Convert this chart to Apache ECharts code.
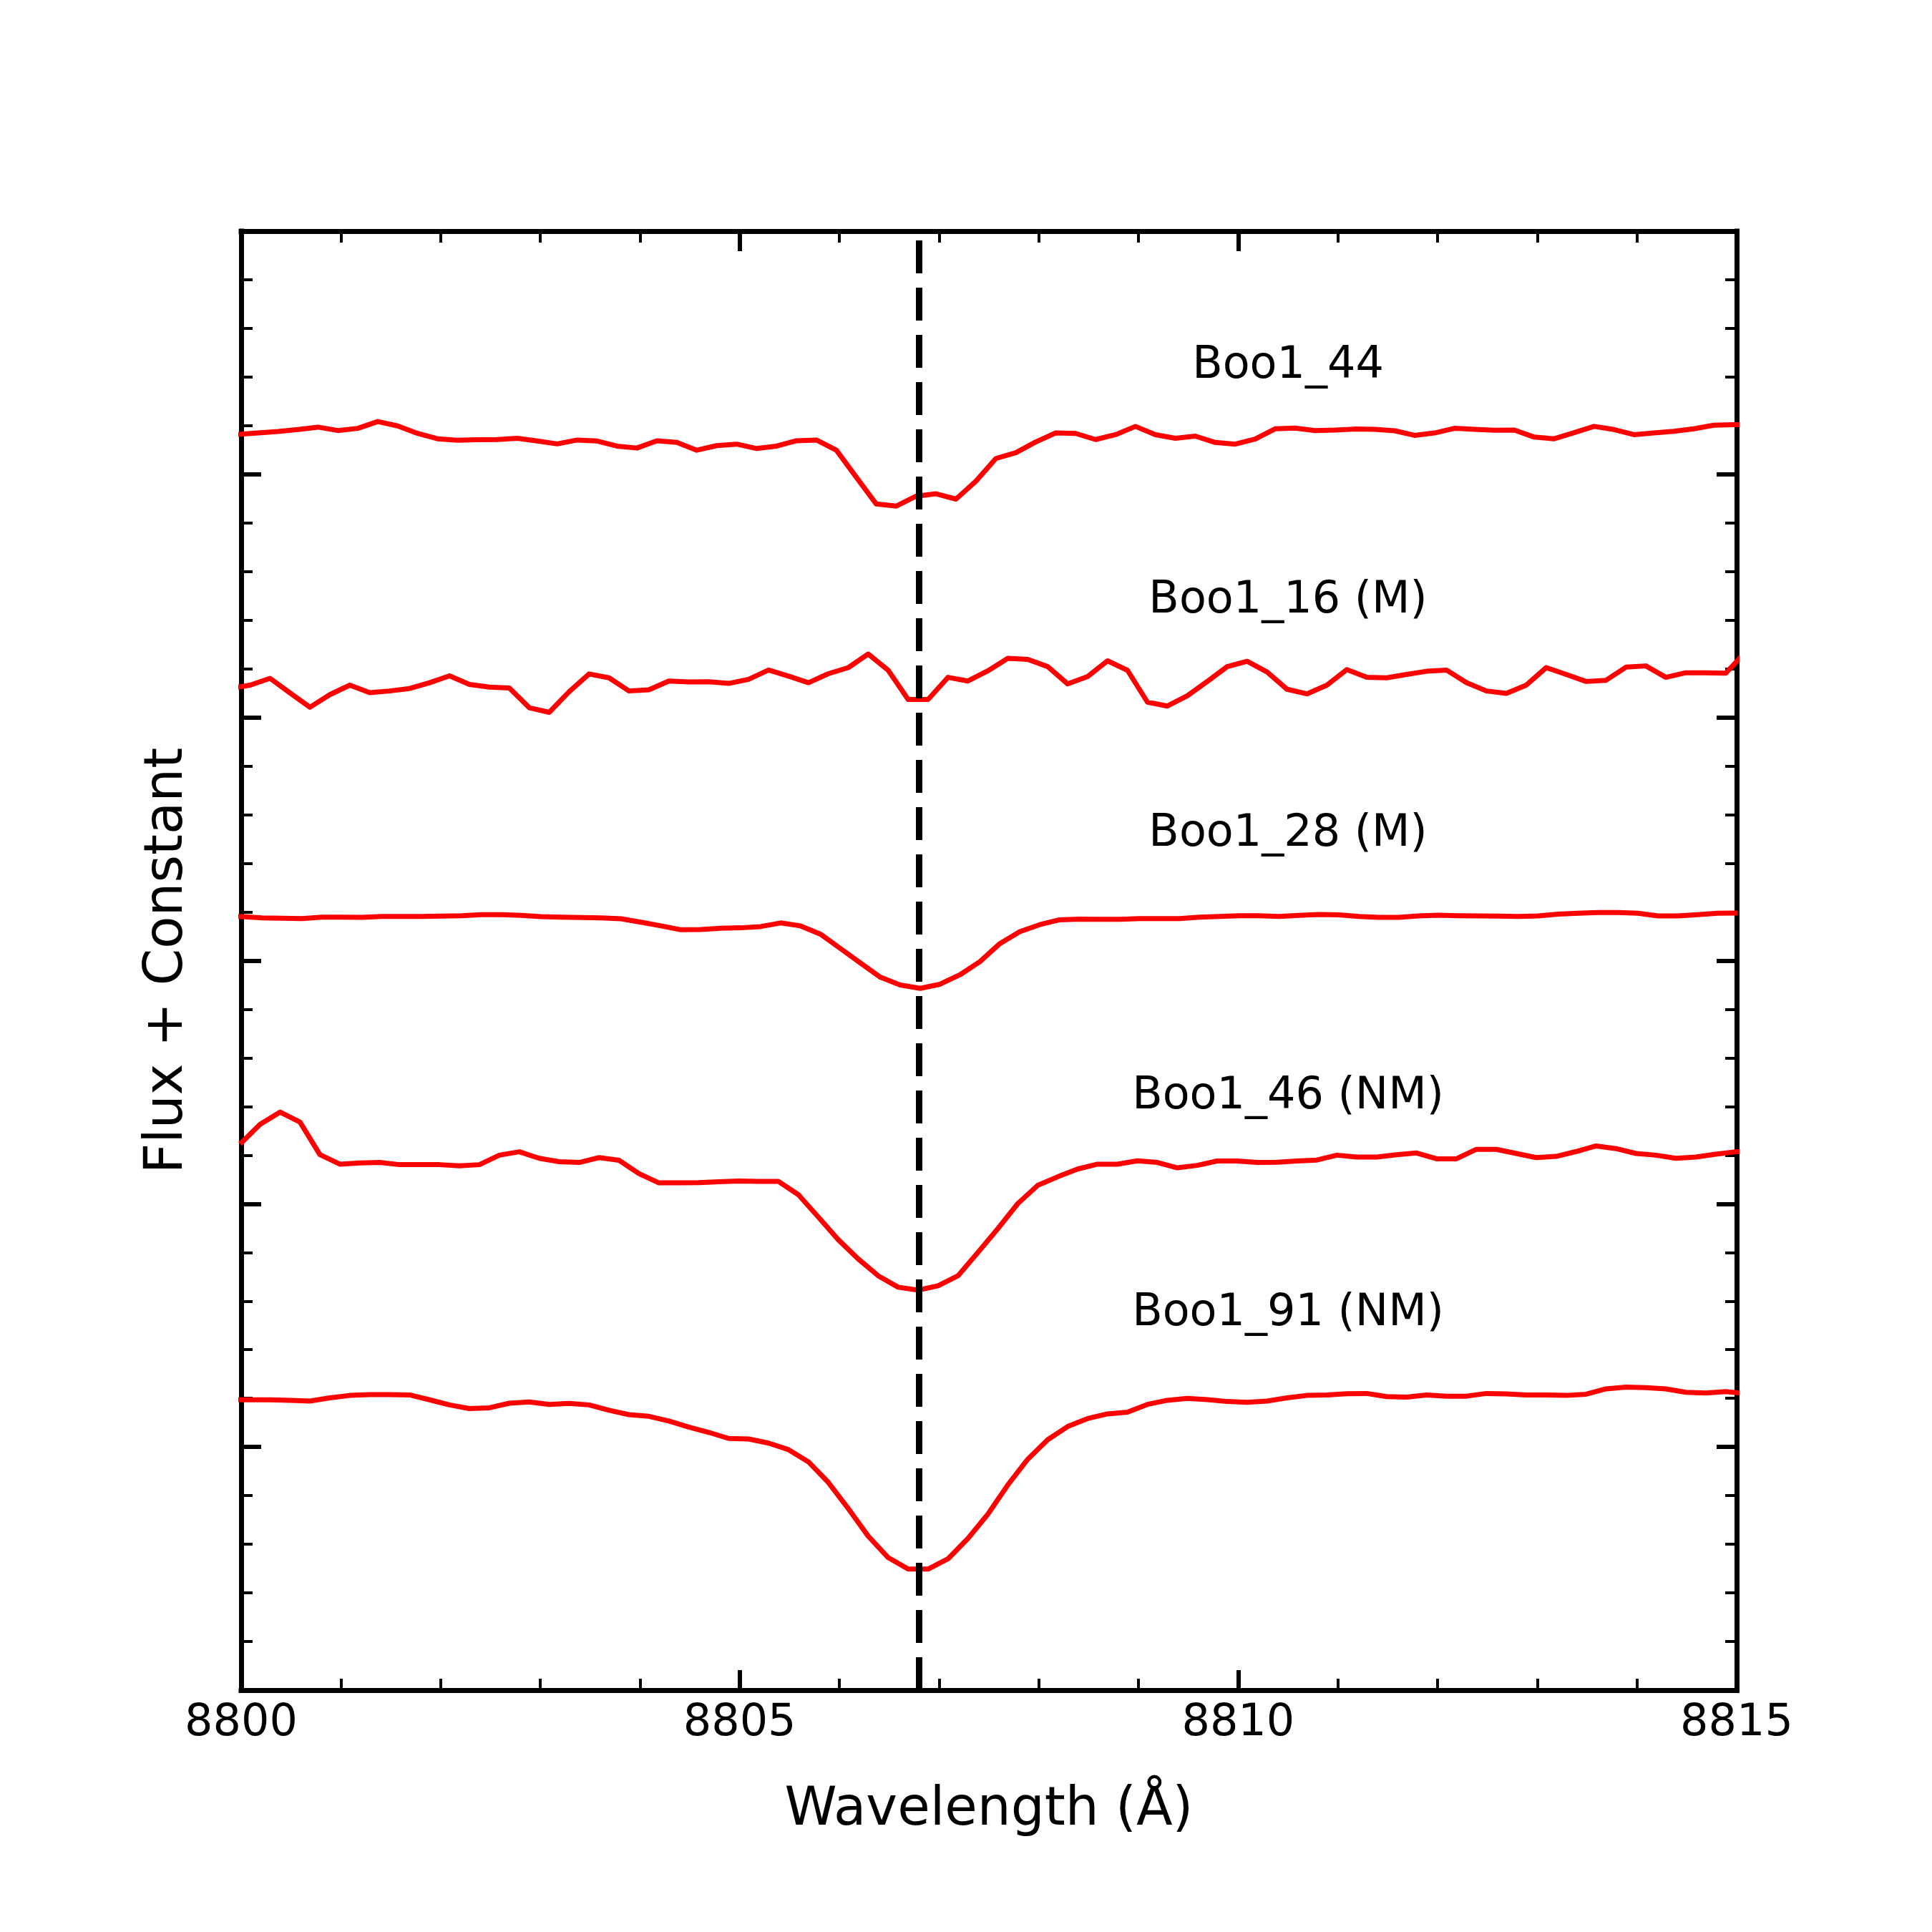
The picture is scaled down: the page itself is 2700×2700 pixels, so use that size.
<!DOCTYPE html>
<html><head><meta charset="utf-8">
<script src="https://cdn.jsdelivr.net/npm/echarts@6/dist/echarts.min.js"></script>
<style>html,body{margin:0;padding:0;background:#fff}#c{width:2700px;height:2700px}</style>
</head><body><div id="c"></div>
<script>
// Wavelength grid: first sample (Angstrom) of each spectrum, uniform 0.2 A sampling
const step = 0.2;
const start44 = 8799.97;
const start16 = 8799.89;
const start28 = 8799.81;
const start46 = 8799.99;
const start91 = 8799.89;

// Flux + constant
const flux44 = [5.164,5.170,5.176,5.184,5.194,5.180,5.189,5.217,5.199,5.168,5.146,5.140,5.142,5.143,5.148,5.137,5.125,5.141,5.137,5.116,5.108,5.138,5.131,5.099,5.118,5.124,5.106,5.116,5.138,5.141,5.099,4.988,4.878,4.869,4.910,4.920,4.898,4.972,5.065,5.089,5.133,5.170,5.168,5.143,5.163,5.197,5.163,5.148,5.157,5.131,5.124,5.145,5.187,5.190,5.180,5.182,5.186,5.185,5.179,5.160,5.170,5.189,5.185,5.181,5.182,5.153,5.146,5.171,5.197,5.184,5.163,5.170,5.177,5.187,5.202,5.204,5.204];
const flux16 = [4.119,4.133,4.161,4.101,4.042,4.094,4.133,4.102,4.109,4.119,4.143,4.171,4.136,4.125,4.121,4.040,4.021,4.106,4.179,4.163,4.109,4.114,4.150,4.146,4.147,4.140,4.157,4.195,4.170,4.143,4.180,4.205,4.261,4.194,4.074,4.074,4.165,4.150,4.192,4.243,4.239,4.209,4.138,4.168,4.233,4.194,4.063,4.047,4.089,4.148,4.209,4.231,4.187,4.116,4.097,4.133,4.197,4.165,4.163,4.177,4.190,4.195,4.143,4.109,4.099,4.133,4.205,4.177,4.148,4.153,4.207,4.212,4.165,4.184,4.184,4.182,4.270];
const flux28 = [3.185,3.181,3.176,3.174,3.173,3.179,3.179,3.178,3.182,3.182,3.182,3.183,3.185,3.189,3.189,3.186,3.181,3.179,3.177,3.176,3.172,3.158,3.143,3.127,3.128,3.133,3.135,3.140,3.155,3.143,3.109,3.050,2.991,2.932,2.900,2.886,2.903,2.942,2.996,3.070,3.119,3.148,3.168,3.171,3.170,3.170,3.173,3.173,3.173,3.179,3.182,3.185,3.185,3.182,3.186,3.190,3.188,3.182,3.178,3.178,3.184,3.187,3.185,3.184,3.183,3.182,3.184,3.191,3.195,3.198,3.198,3.195,3.184,3.184,3.189,3.195,3.196];
const flux46 = [2.246,2.327,2.377,2.336,2.202,2.163,2.168,2.170,2.161,2.161,2.161,2.156,2.161,2.200,2.214,2.187,2.173,2.170,2.190,2.179,2.124,2.086,2.086,2.087,2.091,2.094,2.092,2.092,2.037,1.945,1.852,1.773,1.704,1.657,1.645,1.663,1.704,1.800,1.898,2.001,2.076,2.111,2.143,2.163,2.163,2.177,2.170,2.148,2.158,2.176,2.176,2.170,2.171,2.176,2.180,2.200,2.192,2.192,2.202,2.209,2.185,2.185,2.224,2.224,2.207,2.190,2.195,2.215,2.238,2.227,2.207,2.200,2.187,2.192,2.204,2.214,2.216];
const flux91 = [1.194,1.194,1.194,1.192,1.189,1.202,1.212,1.215,1.215,1.214,1.194,1.173,1.158,1.161,1.180,1.185,1.175,1.179,1.173,1.151,1.133,1.126,1.107,1.082,1.060,1.035,1.033,1.016,0.989,0.939,0.854,0.746,0.633,0.545,0.498,0.498,0.540,0.624,0.724,0.844,0.950,1.030,1.084,1.117,1.136,1.143,1.175,1.192,1.200,1.195,1.187,1.184,1.189,1.202,1.212,1.214,1.219,1.220,1.207,1.205,1.214,1.209,1.209,1.220,1.218,1.214,1.214,1.212,1.217,1.239,1.246,1.244,1.239,1.225,1.222,1.228,1.219];

const starNames = ['Boo1_44', 'Boo1_16 (M)', 'Boo1_28 (M)', 'Boo1_46 (NM)', 'Boo1_91 (NM)'];
const labelX = 8810.5;
const labelY = [5.444, 4.479, 3.520, 2.441, 1.548];
const lineCenter = 8806.8;   // rest wavelength marker
const xMin = 8800, xMax = 8815, xStep = 5;
const yMin = 0, yMax = 6, yStep = 1;

function pairs(start, vals) {
  return vals.map((v, i) => [+(start + i * step).toFixed(2), v]);
}

const FONT = 'DejaVu Sans';
const RED = '#ff0000';
const spectra = [[start44, flux44], [start16, flux16], [start28, flux28], [start46, flux46], [start91, flux91]];

const series = spectra.map((s, i) => ({
  type: 'line', name: starNames[i], data: pairs(s[0], s[1]),
  showSymbol: false, symbol: 'none', clip: true,
  lineStyle: { color: RED, width: 7, join: 'round' },
  emphasis: { disabled: true },
  z: 3
}));
series[0].markLine = {
  silent: true, symbol: ['none', 'none'], label: { show: false },
  lineStyle: { color: '#000', width: 9, type: [46, 20] },
  data: [{ xAxis: lineCenter }], z: 10
};
series.push({
  type: 'scatter', symbol: 'circle', symbolSize: 0.01,
  itemStyle: { color: '#000', opacity: 1 },
  emphasis: { disabled: true },
  data: labelY.map((y, i) => [labelX, y, starNames[i]]),
  label: { show: true, position: 'inside', formatter: p => p.data[2],
           fontFamily: FONT, fontSize: 62, color: '#000', opacity: 1,
           textBorderWidth: 0, textBorderColor: 'transparent' },
  z: 5
});

const frame = { show: true, onZero: false, lineStyle: { color: '#000', width: 7, cap: 'square' } };
const majorTick = { show: true, inside: true, length: 28, lineStyle: { color: '#000', width: 6 } };
const minorTick = { show: true, splitNumber: 5, length: 16, lineStyle: { color: '#000', width: 4 } };

const chart = echarts.init(document.getElementById('c'), null, { renderer: 'canvas' });
chart.setOption({
  animation: false,
  backgroundColor: '#fff',
  grid: { left: 337, right: 273, top: 323, bottom: 338, containLabel: false },
  xAxis: [
    { type: 'value', position: 'bottom', min: xMin, max: xMax, interval: xStep,
      axisLine: frame, axisTick: majorTick, minorTick: minorTick, splitLine: { show: false },
      axisLabel: { show: true, margin: 16, fontFamily: FONT, fontSize: 62, color: '#000',
                   showMinLabel: true, showMaxLabel: true, formatter: v => String(v) },
      name: 'Wavelength (Å)', nameLocation: 'middle', nameGap: 132,
      nameTextStyle: { fontFamily: FONT, fontSize: 74, color: '#000' } },
    { type: 'value', position: 'top', min: xMin, max: xMax, interval: xStep,
      axisLine: frame, axisTick: majorTick, minorTick: minorTick, splitLine: { show: false },
      axisLabel: { show: false } }
  ],
  yAxis: [
    { type: 'value', position: 'left', min: yMin, max: yMax, interval: yStep,
      axisLine: frame, axisTick: majorTick, minorTick: minorTick, splitLine: { show: false },
      axisLabel: { show: false },
      name: 'Flux + Constant', nameLocation: 'middle', nameGap: 65,
      nameTextStyle: { fontFamily: FONT, fontSize: 74, color: '#000' } },
    { type: 'value', position: 'right', min: yMin, max: yMax, interval: yStep,
      axisLine: frame, axisTick: majorTick, minorTick: minorTick, splitLine: { show: false },
      axisLabel: { show: false } }
  ],
  series: series
});
</script></body></html>
